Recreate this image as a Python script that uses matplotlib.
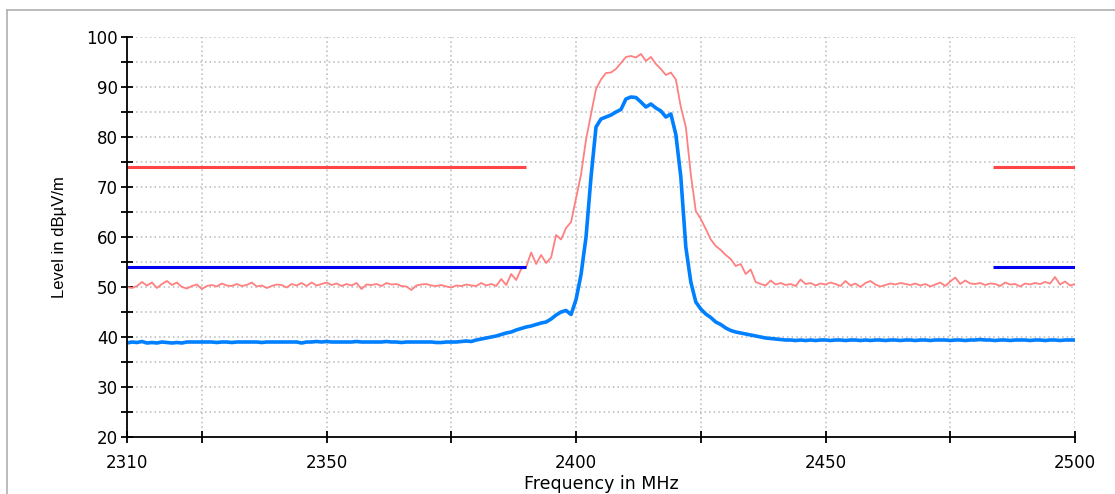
import matplotlib
matplotlib.use("Agg")
import matplotlib.pyplot as plt
import numpy as np

# frequencies in MHz, 1 MHz step
freq = np.arange(2310, 2501, 1)

# peak trace (pink)
peak = [
    50.0, 49.8, 50.2, 51.0, 50.3, 50.9, 49.8, 50.6, 51.2, 50.4,
    50.9, 50.0, 49.7, 50.2, 50.5, 49.6, 50.2, 50.4, 50.1, 50.7,
    50.3, 50.2, 50.6, 50.2, 50.4, 50.9, 50.1, 50.3, 49.8, 50.2,
    50.5, 50.4, 49.9, 50.6, 50.3, 50.8, 50.2, 50.9, 50.3, 50.6,
    50.9, 50.4, 50.7, 50.2, 50.6, 50.3, 50.8, 49.6, 50.5, 50.4,
    50.6, 50.2, 50.8, 50.5, 50.6, 50.2, 50.1, 49.4, 50.3, 50.5,
    50.6, 50.3, 50.2, 50.4, 50.1, 49.9, 50.3, 50.2, 50.5, 50.3,
    50.2, 50.8, 50.3, 50.6, 50.2, 51.6, 50.4, 52.6, 51.4, 53.6,
    54.0, 56.9, 54.6, 56.4, 54.8, 55.9, 60.4, 59.5, 61.8, 63.0,
    67.8, 72.5, 79.5, 84.5, 89.6, 91.5, 92.8, 92.9, 93.6, 94.8,
    96.0, 96.2, 95.9, 96.6, 95.2, 96.0, 94.6, 93.6, 92.4, 92.9,
    91.5, 86.0, 82.0, 72.5, 65.2, 63.6, 61.6, 59.5, 58.2, 57.4,
    56.4, 55.6, 54.2, 54.6, 52.6, 53.5, 51.0,
    50.6, 50.3, 51.3, 50.5, 50.8, 50.4, 50.6, 50.2, 51.5, 50.6, 50.8, 50.3, 50.7,
    50.5, 50.9, 50.6, 50.2, 51.2, 50.3, 50.7, 50.0, 50.8, 51.2,
    50.5, 50.1, 50.4, 50.7, 50.5, 50.8, 50.6, 50.4, 50.7, 50.3,
    50.6, 50.1, 50.5, 50.9, 50.2, 51.1, 51.9, 50.6, 51.3, 50.7,
    50.6, 50.8, 50.4, 50.7, 50.6, 50.2, 50.9, 50.5, 50.6, 50.1,
    50.7, 50.5, 50.8, 50.6, 51.0, 50.7, 52.0, 50.5, 51.1, 50.3, 50.6,
]

# average trace (blue)
avg = [
    38.8, 39.0, 38.9, 39.1, 38.8, 38.9, 38.8, 39.0, 38.9, 38.8,
    38.9, 38.8, 39.0, 39.0, 39.0, 39.0, 39.0, 39.0, 38.9, 39.0,
    39.0, 38.9, 39.0, 39.0, 39.0, 39.0, 39.0, 38.9, 39.0, 39.0,
    39.0, 39.0, 39.0, 39.0, 39.0, 38.8, 39.0, 39.0, 39.1, 39.0,
    39.1, 39.0, 39.0, 39.0, 39.0, 39.0, 39.1, 39.0, 39.0, 39.0,
    39.0, 39.0, 39.1, 39.0, 39.0, 38.9, 39.0, 39.0, 39.0, 39.0,
    39.0, 39.0, 38.9, 38.9, 39.0, 39.0, 39.0, 39.1, 39.2, 39.1,
    39.4, 39.6, 39.8, 40.0, 40.2, 40.5, 40.8, 41.0, 41.4, 41.7,
    42.0, 42.2, 42.5, 42.8, 43.0, 43.6, 44.4, 45.0, 45.3, 44.5,
    47.5, 52.5, 60.0, 72.0, 82.0, 83.6, 84.0, 84.4, 85.0, 85.5,
    87.6, 88.0, 87.9, 87.0, 86.0, 86.6, 85.8, 85.2, 84.0, 84.6,
    80.5, 72.0, 58.0, 51.0, 47.0, 45.6, 44.6, 43.9, 43.0, 42.5,
    41.8, 41.3, 41.0, 40.8, 40.6, 40.4, 40.2, 40.0, 39.8, 39.7,
    39.6, 39.5, 39.4, 39.4, 39.3, 39.4, 39.3, 39.4, 39.3, 39.4,
    39.4, 39.3, 39.4, 39.4, 39.3, 39.4, 39.4, 39.3, 39.4, 39.3,
    39.4, 39.4, 39.3, 39.4, 39.4, 39.3, 39.4, 39.4, 39.3, 39.4,
    39.4, 39.3, 39.4, 39.4, 39.4, 39.3, 39.4, 39.4, 39.3, 39.4,
    39.4, 39.5, 39.4, 39.4, 39.3, 39.4, 39.4, 39.3, 39.4, 39.4,
    39.4, 39.3, 39.4, 39.4, 39.3, 39.4, 39.4, 39.3, 39.4, 39.4, 39.4,
]

# limit lines (restricted bands)
peak_limit = 74
avg_limit = 54
band_left = [2310, 2390]
band_right = [2483.5, 2500]

fig = plt.figure(figsize=(11.15, 4.94), dpi=100)
ax = fig.add_axes([127 / 1115, 1 - 437 / 494, 948 / 1115, 400 / 494])

# light frame around the plot area
fig.add_artist(plt.Line2D([7 / 1115, 7 / 1115], [0, 1 - 10 / 494], transform=fig.transFigure,
                          color="#b0b0b0", lw=1.2))
fig.add_artist(plt.Line2D([7 / 1115, 1], [1 - 10 / 494, 1 - 10 / 494], transform=fig.transFigure,
                          color="#b0b0b0", lw=1.2))

ax.plot(freq, peak, color="#ff8080", lw=1.3, zorder=3)
ax.plot(freq, avg, color="#0080ff", lw=2.6, zorder=4)

for band in (band_left, band_right):
    ax.plot(band, [peak_limit, peak_limit], color="#ff4545", lw=2.2, zorder=5, solid_capstyle="butt")
    ax.plot(band, [avg_limit, avg_limit], color="#0000ee", lw=2.2, zorder=5, solid_capstyle="butt")

ax.set_xlim(2310, 2500)
ax.set_ylim(20, 100)

xticks = [2310] + list(range(2325, 2501, 25))
ax.set_xticks(xticks)
ax.set_xticklabels([str(t) if t in (2310, 2350, 2400, 2450, 2500) else "" for t in xticks])
ax.set_yticks(range(20, 101, 10))
ax.set_yticks(range(25, 100, 10), minor=True)

ax.tick_params(axis="both", which="both", direction="inout", length=9, width=1.3, color="black",
               labelsize=12, pad=2)
ax.tick_params(axis="x", pad=8)

# dotted grid
for g in range(2325, 2501, 25):
    ax.axvline(g, color="#b8b8b8", ls=(0, (1, 2)), lw=1.1, zorder=1)
for g in range(25, 101, 5):
    ax.axhline(g, color="#b8b8b8", ls=(0, (1, 2)), lw=1.1, zorder=1)

for side in ("top", "right"):
    ax.spines[side].set_visible(False)
for side in ("left", "bottom"):
    ax.spines[side].set_linewidth(1.3)
    ax.spines[side].set_zorder(6)

ax.set_ylabel("Level in dBµV/m", fontsize=12, family="Liberation Sans", labelpad=14)
ax.set_xlabel("Frequency in MHz", fontsize=12.5, family="DejaVu Sans", labelpad=2)

fig.savefig("out.png", dpi=100)
